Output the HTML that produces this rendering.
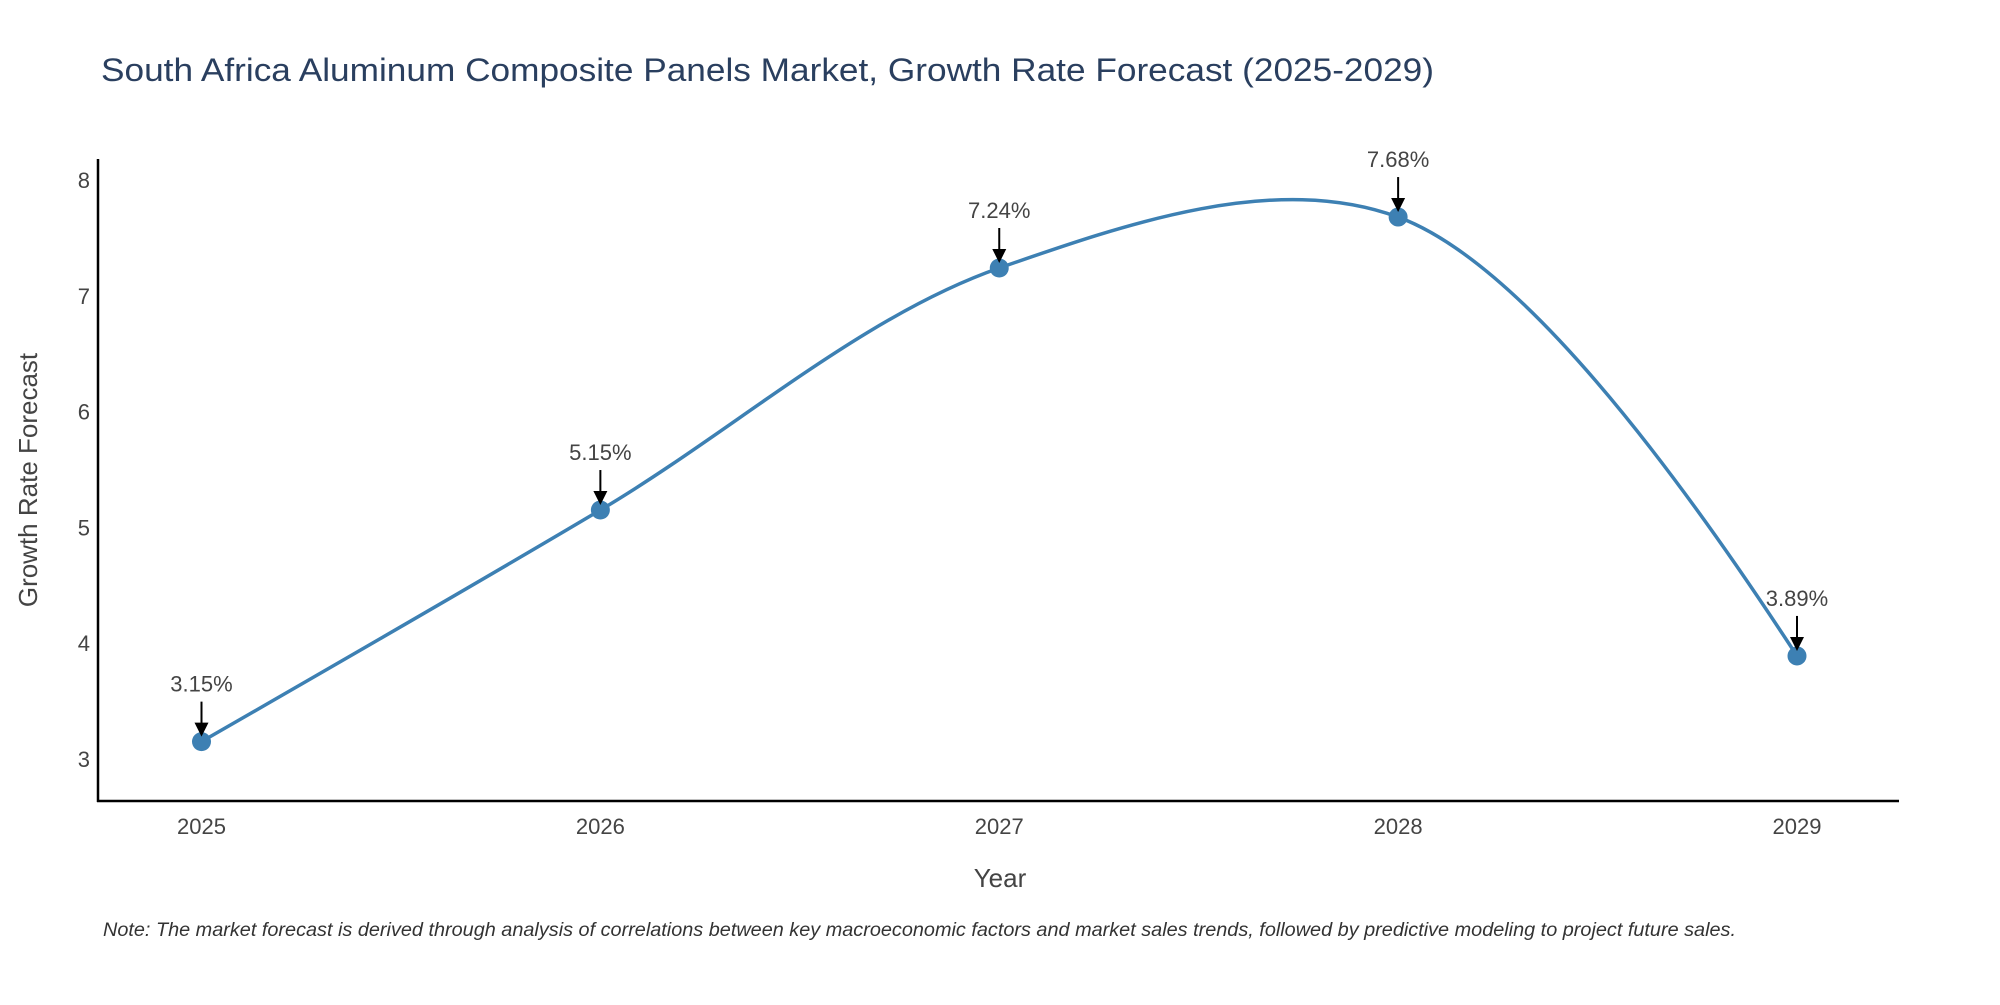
<!DOCTYPE html>
<html><head><meta charset="utf-8"><style>
body{margin:0;background:#fff;}
svg text{font-family:"Liberation Sans",sans-serif;}
</style></head><body>
<svg id="chart" width="2000" height="1000" viewBox="0 0 2000 1000">
<rect width="2000" height="1000" fill="#fff"/>
<text x="101" y="81" font-size="32" fill="#2a3f5f" textLength="1333" lengthAdjust="spacingAndGlyphs">South Africa Aluminum Composite Panels Market, Growth Rate Forecast (2025-2029)</text>
<g id="yticks"></g>
<g id="xticks"></g>
<line x1="98" y1="159" x2="98" y2="802" stroke="#000" stroke-width="2.5"/>
<line x1="97" y1="801" x2="1899" y2="801" stroke="#000" stroke-width="2.5"/>
<path id="series" fill="none" stroke="#3d80b3" stroke-width="3.5"/>
<g id="marks"></g>
<text x="1000" y="887" font-size="26" fill="#444" text-anchor="middle">Year</text>
<text x="0" y="0" font-size="26" fill="#444" text-anchor="middle" transform="translate(37,480) rotate(-90)">Growth Rate Forecast</text>
<text x="103" y="936" font-size="19" font-style="italic" fill="#333" textLength="1633" lengthAdjust="spacingAndGlyphs">Note: The market forecast is derived through analysis of correlations between key macroeconomic factors and market sales trends, followed by predictive modeling to project future sales.</text>
</svg>
<script>
const years = [2025, 2026, 2027, 2028, 2029];
const values = [3.15, 5.15, 7.24, 7.68, 3.89];
const labels = ["3.15%", "5.15%", "7.24%", "7.68%", "3.89%"];
const yTicks = [3, 4, 5, 6, 7, 8];
const NS = "http://www.w3.org/2000/svg";
function xs(v){ return 201.5 + (v - 2025) * (1797 - 201.5) / 4; }
function ys(v){ return 759 - (v - 3) * (759 - 180) / 5; }
function mk(tag, attrs, parent, txt){ const e = document.createElementNS(NS, tag); for (const k in attrs) e.setAttribute(k, attrs[k]); if (txt!==undefined) e.textContent = txt; parent.appendChild(e); return e; }
const yg = document.getElementById('yticks');
yTicks.forEach(t => {
  const e = mk('text', {x: 90, y: ys(t) + 8, 'font-size': 22, fill: '#444', 'text-anchor': 'end'}, yg, String(t));
  
  
});
const xg = document.getElementById('xticks');
years.forEach(y => {
  const e = mk('text', {x: xs(y), y: 834, 'font-size': 22, fill: '#444', 'text-anchor': 'middle'}, xg, String(y));
  
  
});
const pts = years.map((y, i) => [xs(y), ys(values[i])]);
function tangent(p, t, n, s){
  const d1x = p[0]-t[0], d1y = p[1]-t[1], d2x = n[0]-t[0], d2y = n[1]-t[1];
  const d1a = Math.pow(d1x*d1x + d1y*d1y, 0.25), d2a = Math.pow(d2x*d2x + d2y*d2y, 0.25);
  const nx = (d2a*d2a*d1x - d1a*d1a*d2x) * s, ny = (d2a*d2a*d1y - d1a*d1a*d2y) * s;
  const den1 = 3*d2a*(d1a+d2a), den2 = 3*d1a*(d1a+d2a);
  return [[t[0] + nx/den1, t[1] + ny/den1], [t[0] - nx/den2, t[1] - ny/den2]];
}
const tg = [];
for (let i = 1; i < pts.length - 1; i++) tg.push(tangent(pts[i-1], pts[i], pts[i+1], 1));
let d = 'M' + pts[0] + 'Q' + tg[0][0] + ' ' + pts[1];
for (let i = 2; i < pts.length - 1; i++) d += 'C' + tg[i-2][1] + ' ' + tg[i-1][0] + ' ' + pts[i];
d += 'Q' + tg[pts.length-3][1] + ' ' + pts[pts.length-1];
document.getElementById('series').setAttribute('d', d);
const mg = document.getElementById('marks');
pts.forEach((p, i) => {
  const c = mk('circle', {cx: p[0], cy: p[1], r: 9.5, fill: '#3d80b3'}, mg);
  
  
  const l = mk('line', {x1: p[0], y1: p[1] - 40, x2: p[0], y2: p[1] - 18, stroke: '#000', 'stroke-width': 2}, mg);
  
  
  const h = mk('polygon', {points: (p[0]-7)+','+(p[1]-19)+' '+(p[0]+7)+','+(p[1]-19)+' '+p[0]+','+(p[1]-5), fill: '#000'}, mg);
  
  
  const t = mk('text', {x: p[0], y: p[1] - 50, 'font-size': 22, fill: '#444', 'text-anchor': 'middle'}, mg, labels[i]);
  
  
});
</script>
</body></html>
